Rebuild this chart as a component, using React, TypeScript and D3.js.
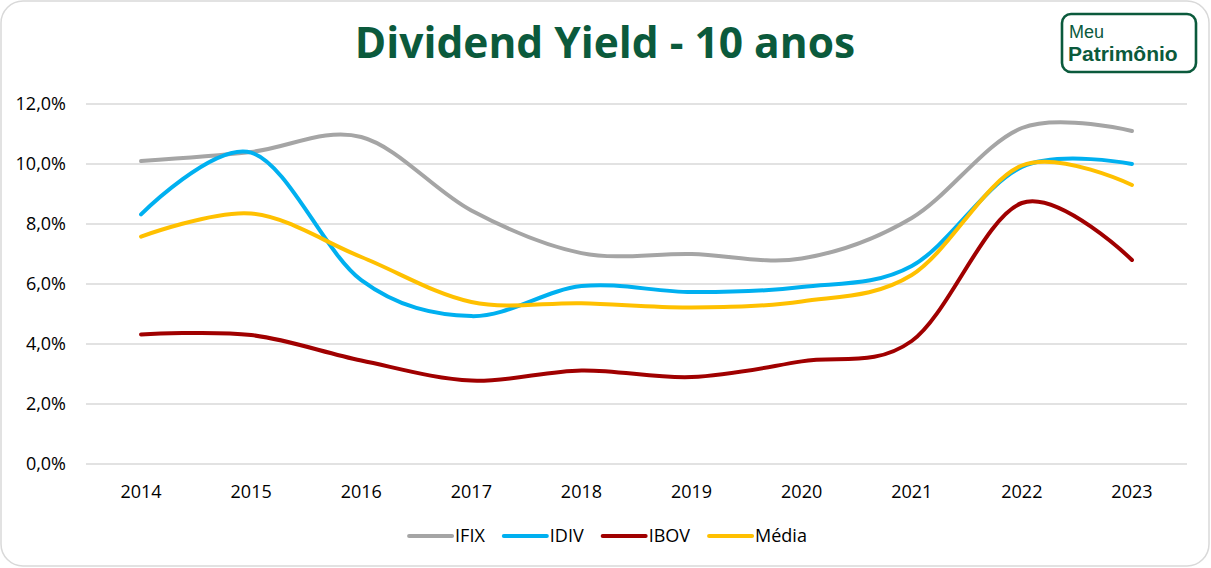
import { useMemo } from "react"
import * as d3 from "d3"

// valores (% a.a.)
const years = ["2014", "2015", "2016", "2017", "2018", "2019", "2020", "2021", "2022", "2023"]
const ifix = [10.1, 10.4, 10.9, 8.45, 7.03, 7.0, 6.85, 8.2, 11.2, 11.1]
const idiv = [8.32, 10.38, 6.13, 4.93, 5.93, 5.73, 5.9, 6.6, 9.9, 10.0]
const ibov = [4.32, 4.3, 3.45, 2.78, 3.12, 2.9, 3.42, 4.1, 8.7, 6.8]
const media = [7.58, 8.35, 6.9, 5.4, 5.36, 5.22, 5.42, 6.3, 9.95, 9.3]
const yTicks = [0, 2, 4, 6, 8, 10, 12]

const seriesNames = ["IFIX", "IDIV", "IBOV", "Média"]
const seriesColors = ["#A5A5A5", "#00B0F0", "#A00000", "#FFC000"]

const W = 1211
const H = 568
const FONT = "'Open Sans', 'Liberation Sans', sans-serif"
const LOGO_FONT = "'Liberation Sans', Arial, sans-serif"
const GREEN = "#0B5A3C"
const LABEL_SIZE = 18

const locale = d3.formatLocale({ decimal: ",", thousands: ".", grouping: [3], currency: ["R$", ""] })
const fmt = locale.format(".1f")

export default function App() {
  const series = [ifix, idiv, ibov, media]

  const x = d3.scalePoint<string>().domain(years).range([86, 1187]).padding(0.5)
  const y = d3.scaleLinear().domain([0, 12]).range([464, 104])

  const line = d3
    .line<number>()
    .x((_, i) => x(years[i]) as number)
    .y((d) => y(d))
    .curve(d3.curveCardinal.tension(0))

  // largura dos textos da legenda
  const legendX = useMemo(() => {
    const ctx = document.createElement("canvas").getContext("2d")
    const widths = seriesNames.map((n) => {
      if (!ctx) return n.length * 10
      ctx.font = `${LABEL_SIZE}px ${FONT}`
      return ctx.measureText(n).width
    })
    const lineLen = 43
    const gap = 3
    const spacing = 19
    const total = widths.reduce((s, w) => s + lineLen + gap + w, 0) + spacing * (widths.length - 1)
    let cur = 608 - total / 2
    return widths.map((w) => {
      const pos = cur
      cur += lineLen + gap + w + spacing
      return pos
    })
  }, [])

  return (
    <svg
      width={W}
      height={H}
      style={{ position: "absolute", left: 0, top: 0, display: "block", background: "#fff" }}
      fontFamily={FONT}
    >
      <rect x={1} y={1} width={W - 3} height={H - 3} rx={22} fill="#fff" stroke="#D9D9D9" strokeWidth={1.5} />

      <text x={605} y={58} textAnchor="middle" fontSize={42.5} fontWeight={700} fill={GREEN}>
        Dividend Yield - 10 anos
      </text>

      {/* logo */}
      <g fontFamily={LOGO_FONT}>
        <rect x={1062} y={14} width={134} height={58} rx={9} fill="#fff" stroke={GREEN} strokeWidth={2.6} />
        <text x={1069} y={37.5} fontSize={18} fill={GREEN}>Meu</text>
        <text x={1068} y={60.5} fontSize={21} fontWeight={700} fill={GREEN}>Patrimônio</text>
      </g>

      {/* grade */}
      {yTicks.map((t) => (
        <g key={t}>
          <line x1={86} x2={1187} y1={y(t)} y2={y(t)} stroke="#D9D9D9" strokeWidth={1.5} />
          <text x={66} y={y(t)} dy="0.36em" textAnchor="end" fontSize={LABEL_SIZE} fill="#000">
            {fmt(t) + "%"}
          </text>
        </g>
      ))}

      {years.map((yr) => (
        <text key={yr} x={x(yr)} y={498} textAnchor="middle" fontSize={LABEL_SIZE} fill="#000">
          {yr}
        </text>
      ))}

      {series.map((s, i) => (
        <path
          key={seriesNames[i]}
          d={line(s) ?? ""}
          fill="none"
          stroke={seriesColors[i]}
          strokeWidth={4}
          strokeLinecap="round"
          strokeLinejoin="round"
        />
      ))}

      {/* legenda */}
      {seriesNames.map((n, i) => (
        <g key={n} transform={`translate(${legendX[i]},536)`}>
          <line x1={0} x2={43} y1={0} y2={0} stroke={seriesColors[i]} strokeWidth={4} strokeLinecap="round" />
          <text x={46} y={0} dy="0.36em" fontSize={LABEL_SIZE} fill="#000">
            {n}
          </text>
        </g>
      ))}
    </svg>
  )
}
